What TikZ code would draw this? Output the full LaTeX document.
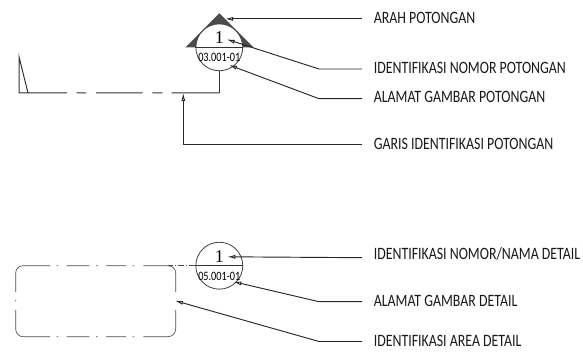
\documentclass[tikz,border=0pt]{standalone}
\usepackage{fontspec}
\setmainfont[FakeStretch=0.8]{Carlito}
\newfontfamily\numfont{Liberation Serif}
\usetikzlibrary{arrows.meta}
\tikzset{
 lead/.style={draw=black!85,line width=0.7pt,{Latex[open,length=6pt,width=3pt]}-},
 labeltext/.style={anchor=west,inner sep=0pt,font=\fontsize{13pt}{14pt}\selectfont,text=black!90},
 bubble/.style={circle,draw=black!75,line width=0.6pt,minimum size=35.2pt,inner sep=0pt},
 plain/.style={draw=black!80,line width=0.75pt},
 thin line/.style={draw=black!70,line width=0.5pt},
 bignum/.style={inner sep=0pt,font=\numfont\fontsize{13.5pt}{13.5pt}\selectfont},
 smallnum/.style={inner sep=0pt,font=\fontsize{9.6pt}{10pt}\selectfont}
}
\begin{document}
\begin{tikzpicture}[x=0.75pt,y=-0.75pt]
\useasboundingbox (0,0) rectangle (583,352);
% section mark
\fill[black!70] (185.7,47.3) -- (219.3,13.3) -- (253.3,47.3) -- (242.8,47.3) arc[start angle=0,end angle=180,radius=17.6pt] -- cycle;
\node[bubble] (c1) at (219.3,47.3) {};
\draw[plain] (c1.west) -- (c1.east);
\node[bignum] (n1) at (219.3,37.5) {1};
\node[smallnum] (a1) at (219.3,57) {03.001-01};
\coordinate (k1) at (219.3,93);
\draw[plain] (c1.south) -- (k1);
\draw[plain] (k1) -- (171.7,93) (162.3,93) -- (152.3,93) (142.7,93) -- (96,93) (86,93) -- (76.7,93) (67,93) -- (19,93) -- (19,56.7) -- (28,93);
% leaders top
\coordinate (t1) at (225,18.9); \coordinate (e1) at (362,18.9);
\draw[lead] (t1) -- (e1);
\node[labeltext] (l1) at (373.5,18) {ARAH POTONGAN};
\coordinate (t2) at (226.7,39.3); \coordinate (m2) at (319,69); \coordinate (e2) at (362,69);
\draw[lead] (t2) -- (m2) -- (e2);
\node[labeltext] (l2) at (373.5,68) {IDENTIFIKASI NOMOR POTONGAN};
\coordinate (t3) at (229,65); \coordinate (m3) at (319,98.7); \coordinate (e3) at (362,98.7);
\draw[lead] (t3) -- (m3) -- (e3);
\node[labeltext] (l3) at (373.5,97) {ALAMAT GAMBAR POTONGAN};
\coordinate (t4) at (183.3,93); \coordinate (m4) at (183.3,144.3); \coordinate (e4) at (362,144.3);
\draw[lead] (t4) -- (m4) -- (e4);
\node[labeltext] (l4) at (373.5,144) {GARIS IDENTIFIKASI POTONGAN};
% detail mark
\node[bubble] (c2) at (219.3,265.7) {};
\draw[plain] (c2.west) -- (c2.east);
\node[bignum] (n2) at (219.3,256.5) {1};
\node[smallnum] (a2) at (219.3,276) {05.001-01};
\draw[thin line,dash pattern=on 4.5pt off 1.5pt on 1pt off 1.5pt] (c2.west) -- (168,265.7);
% detail area
\draw[thin line]
  (23,265.7) -- (50,265.7) (56.5,265.7) -- (58,265.7) (66.7,265.7) -- (89.3,265.7) (96,265.7) -- (97.5,265.7)
  (106,265.7) -- (126,265.7) (132.7,265.7) -- (134.2,265.7) (143.3,265.7) -- (168,265.7)
  to[out=0,in=90] (175.7,273) -- (175.7,292) (175.7,310) -- (175.7,329)
  to[out=-90,in=0] (168,336.7) -- (143.3,336.7) (134.2,336.7) -- (132.7,336.7) (126,336.7) -- (106,336.7)
  (97.5,336.7) -- (96,336.7) (89.3,336.7) -- (66.7,336.7) (58,336.7) -- (56.5,336.7) (50,336.7) -- (23,336.7)
  to[out=180,in=-90] (15.7,329) -- (15.7,310) (15.7,301.5) -- (15.7,300) (15.7,292) -- (15.7,273)
  to[out=90,in=180] (23,265.7);
\coordinate (t5) at (227.3,256.8); \coordinate (e5) at (362,257.7);
\draw[lead] (t5) -- (e5);
\node[labeltext] (l5) at (373.5,254) {IDENTIFIKASI NOMOR/NAMA DETAIL};
\coordinate (t6) at (233.3,281.7); \coordinate (m6) at (319,301.7); \coordinate (e6) at (362,301.7);
\draw[lead] (t6) -- (m6) -- (e6);
\node[labeltext] (l6) at (373.5,301) {ALAMAT GAMBAR DETAIL};
\coordinate (t7) at (175,300.7); \coordinate (m7) at (319,341.5); \coordinate (e7) at (362,341.5);
\draw[lead] (t7) -- (m7) -- (e7);
\node[labeltext] (l7) at (373.5,341) {IDENTIFIKASI AREA DETAIL};
\end{tikzpicture}
\end{document}
